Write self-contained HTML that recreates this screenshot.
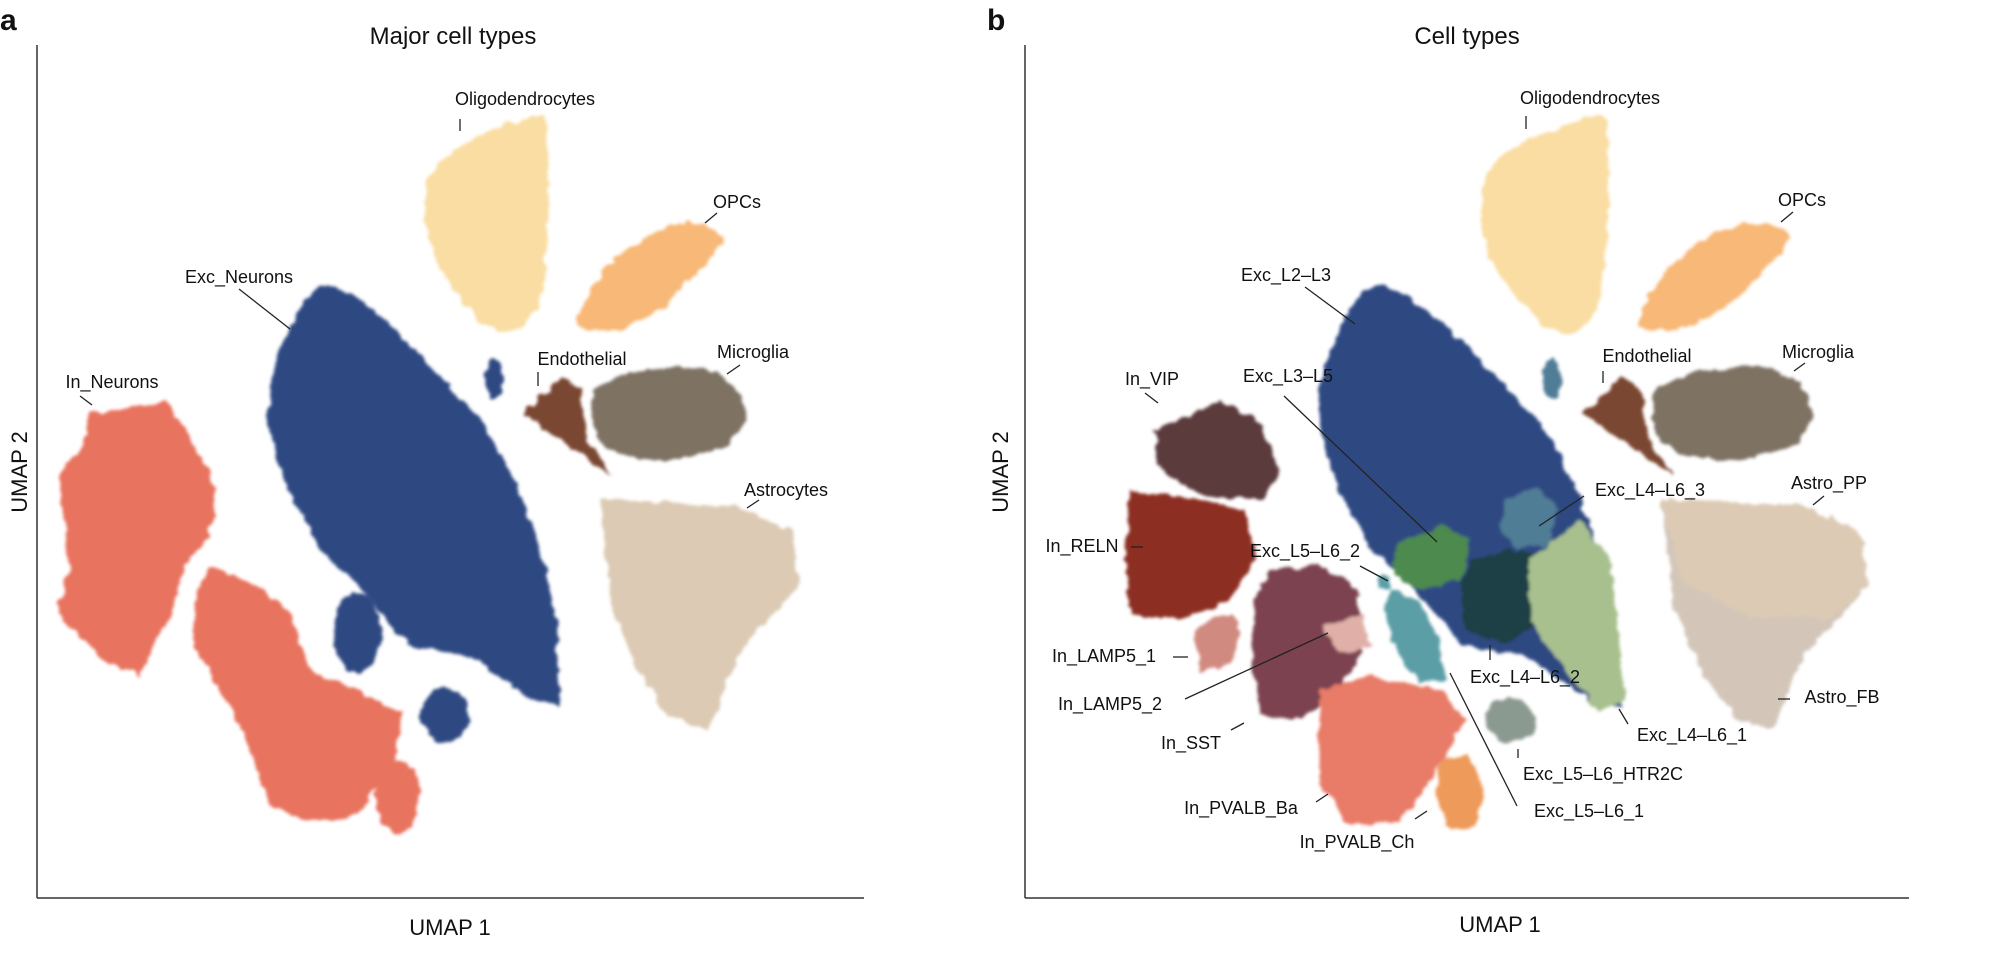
<!DOCTYPE html>
<html><head><meta charset="utf-8"><style>
html,body{margin:0;padding:0;background:#fff;}
svg{display:block;}
text{font-family:"Liberation Sans",sans-serif;fill:#111;}
.l{font-size:18px;text-anchor:middle;}
.t{font-size:24px;text-anchor:middle;}
.ax{font-size:22px;text-anchor:middle;}
.p{font-size:30px;font-weight:bold;}
line.k{stroke:#222;stroke-width:1.3;}
</style></head><body>
<svg width="2000" height="955" viewBox="0 0 2000 955" xmlns="http://www.w3.org/2000/svg">
<defs>
<filter id="r" x="-10%" y="-10%" width="120%" height="120%">
<feTurbulence type="fractalNoise" baseFrequency="0.08" numOctaves="2" seed="3" result="n"/>
<feDisplacementMap in="SourceGraphic" in2="n" scale="10" xChannelSelector="R" yChannelSelector="G" result="d"/>
<feGaussianBlur in="d" stdDeviation="1.5"/>
</filter>
<g id="shared">
<path d="M545,116 C520,118 470,135 440,160 C420,180 420,230 440,270 C460,300 480,325 500,332 C520,335 535,320 540,300 C548,250 552,180 545,116 Z" fill="#f9dda2"/>
<path d="M577,326 C585,290 610,260 640,240 C670,222 700,215 724,237 C715,255 700,270 680,290 C660,310 640,325 606,332 Z" fill="#f8b877"/>
<path d="M593,390 C620,372 650,366 690,368 C720,370 742,385 746,414 C742,440 721,450 700,455 C670,462 640,462 615,452 C595,440 587,426 593,390 Z" fill="#7e7263"/>
<path d="M523,414 L561,377 L580,390 L587,438 L612,475 L574,450 L542,426 Z" fill="#7a4632"/>
</g>
<path id="exc" d="M290,330 C300,300 315,285 330,285 C360,295 383,316 420,355 L485,426 C505,460 523,499 540,550 L555,609 L561,706 L529,700 L472,657 L408,645 L357,584 L319,548 L287,487 L268,426 C268,390 275,355 290,330 Z"/>
</defs>

<text x="0" y="30" class="p">a</text>
<text x="453" y="44" class="t">Major cell types</text>
<line x1="37" y1="45" x2="37" y2="898" stroke="#333" stroke-width="1.5"/>
<line x1="37" y1="898" x2="864" y2="898" stroke="#333" stroke-width="1.5"/>
<text x="450" y="935" class="ax">UMAP 1</text>
<text transform="translate(27,472) rotate(-90)" class="ax">UMAP 2</text>

<g filter="url(#r)">
<use href="#shared"/>
<use href="#exc" fill="#2f4a82"/>
<ellipse cx="357" cy="633" rx="24" ry="40" fill="#2f4a82"/>
<ellipse cx="446" cy="715" rx="24" ry="27" fill="#2f4a82"/>
<ellipse cx="494" cy="378" rx="9" ry="20" fill="#2f4a82"/>
<path d="M89,414 L166,402 L191,438 L217,487 L210,536 L185,566 L172,609 L140,676 L108,663 L57,615 L70,560 L57,475 L83,450 Z" fill="#e8735f"/>
<path d="M210,566 L255,584 L287,609 L312,670 L402,712 L395,761 L357,816 L306,822 L268,803 L242,730 L191,639 L198,590 Z" fill="#e8735f"/>
<ellipse cx="398" cy="797" rx="22" ry="37" fill="#e8735f"/>
<path d="M600,499 L733,505 L791,530 L800,584 L740,651 L708,730 L670,718 L638,670 L612,609 Z" fill="#dccab4"/>
</g>

<text x="525" y="105" class="l">Oligodendrocytes</text><line class="k" x1="460" y1="119" x2="460" y2="131"/>
<text x="737" y="208" class="l">OPCs</text><line class="k" x1="717" y1="213" x2="705" y2="223"/>
<text x="239" y="283" class="l">Exc_Neurons</text><line class="k" x1="239" y1="289" x2="290" y2="329"/>
<text x="112" y="388" class="l">In_Neurons</text><line class="k" x1="80" y1="396" x2="92" y2="405"/>
<text x="582" y="365" class="l">Endothelial</text><line class="k" x1="538" y1="372" x2="538" y2="386"/>
<text x="753" y="358" class="l">Microglia</text><line class="k" x1="740" y1="365" x2="727" y2="374"/>
<text x="786" y="496" class="l">Astrocytes</text><line class="k" x1="759" y1="500" x2="747" y2="508"/>

<text x="987" y="30" class="p">b</text>
<text x="1467" y="44" class="t">Cell types</text>
<line x1="1025" y1="45" x2="1025" y2="898" stroke="#333" stroke-width="1.5"/>
<line x1="1025" y1="898" x2="1909" y2="898" stroke="#333" stroke-width="1.5"/>
<text x="1500" y="932" class="ax">UMAP 1</text>
<text transform="translate(1008,472) rotate(-90)" class="ax">UMAP 2</text>

<g filter="url(#r)">
<g transform="translate(1040,0) scale(1.036,1)">
<use href="#shared"/>
<use href="#exc" fill="#2f4a82"/>
<ellipse cx="494" cy="378" rx="9" ry="20" fill="#4f7d96"/>
<path d="M600,499 L733,505 L791,530 L800,584 L740,651 L708,730 L670,718 L638,670 L612,609 Z" fill="#d3c6b9"/>
<path d="M600,499 L733,505 L791,530 L800,584 L760,620 L680,615 L620,580 Z" fill="#dccab4"/>
</g>
<path d="M1395,545 L1440,525 L1470,540 L1462,580 L1420,590 L1395,575 Z" fill="#4e8a4e"/>
<path d="M1504,500 L1540,487 L1558,510 L1550,545 L1515,548 L1500,525 Z" fill="#4f7d96"/>
<path d="M1470,560 L1520,548 L1545,565 L1540,620 L1505,645 L1465,630 L1460,590 Z" fill="#1e3f45"/>
<path d="M1529,560 L1580,520 L1610,560 L1625,700 L1600,712 L1550,650 L1530,620 Z" fill="#a7c08e"/>
<path d="M1390,590 L1420,600 L1440,640 L1446,680 L1420,682 L1395,650 L1385,610 Z" fill="#5c9ea6"/>
<ellipse cx="1385" cy="583" rx="7" ry="8" fill="#5c9ea6"/>
<ellipse cx="1510" cy="720" rx="25" ry="22" fill="#8b9a90"/>
<path d="M1155,430 L1220,402 L1260,420 L1278,470 L1265,500 L1200,495 L1160,470 Z" fill="#5b3a3c"/>
<path d="M1130,490 L1200,500 L1245,510 L1255,560 L1230,600 L1180,620 L1130,615 L1125,560 Z" fill="#8c2e24"/>
<path d="M1195,630 L1230,612 L1242,630 L1230,665 L1200,672 Z" fill="#d08a80"/>
<path d="M1270,570 L1320,565 L1358,590 L1362,650 L1340,690 L1300,720 L1260,715 L1252,660 L1255,600 Z" fill="#7b4350"/>
<path d="M1322,625 L1362,615 L1372,645 L1340,655 Z" fill="#e0b0a8"/>
<path d="M1320,690 L1370,675 L1440,690 L1466,720 L1430,780 L1400,822 L1350,825 L1318,780 Z" fill="#e87b68"/>
<path d="M1440,760 L1470,755 L1485,790 L1475,828 L1450,830 L1436,795 Z" fill="#ee9a5a"/>
</g>

<text x="1590" y="104" class="l">Oligodendrocytes</text><line class="k" x1="1526" y1="116" x2="1526" y2="129"/>
<text x="1802" y="206" class="l">OPCs</text><line class="k" x1="1793" y1="212" x2="1781" y2="222"/>
<text x="1286" y="281" class="l">Exc_L2–L3</text><line class="k" x1="1305" y1="287" x2="1355" y2="324"/>
<text x="1152" y="385" class="l">In_VIP</text><line class="k" x1="1145" y1="393" x2="1158" y2="403"/>
<text x="1288" y="382" class="l">Exc_L3–L5</text><line class="k" x1="1284" y1="396" x2="1437" y2="542"/>
<text x="1647" y="362" class="l">Endothelial</text><line class="k" x1="1603" y1="371" x2="1603" y2="383"/>
<text x="1818" y="358" class="l">Microglia</text><line class="k" x1="1805" y1="363" x2="1794" y2="371"/>
<text x="1650" y="496" class="l">Exc_L4–L6_3</text><line class="k" x1="1584" y1="496" x2="1539" y2="526"/>
<text x="1829" y="489" class="l">Astro_PP</text><line class="k" x1="1824" y1="496" x2="1813" y2="505"/>
<text x="1082" y="552" class="l">In_RELN</text><line class="k" x1="1131" y1="547" x2="1143" y2="547"/>
<text x="1305" y="557" class="l">Exc_L5–L6_2</text><line class="k" x1="1360" y1="566" x2="1388" y2="581"/>
<text x="1104" y="662" class="l">In_LAMP5_1</text><line class="k" x1="1173" y1="657" x2="1188" y2="657"/>
<text x="1110" y="710" class="l">In_LAMP5_2</text><line class="k" x1="1185" y1="699" x2="1328" y2="633"/>
<text x="1525" y="683" class="l">Exc_L4–L6_2</text><line class="k" x1="1490" y1="645" x2="1490" y2="660"/>
<text x="1842" y="703" class="l">Astro_FB</text><line class="k" x1="1778" y1="699" x2="1790" y2="699"/>
<text x="1191" y="749" class="l">In_SST</text><line class="k" x1="1231" y1="730" x2="1244" y2="723"/>
<text x="1692" y="741" class="l">Exc_L4–L6_1</text><line class="k" x1="1619" y1="709" x2="1628" y2="724"/>
<text x="1603" y="780" class="l">Exc_L5–L6_HTR2C</text><line class="k" x1="1518" y1="749" x2="1518" y2="758"/>
<text x="1589" y="817" class="l">Exc_L5–L6_1</text><line class="k" x1="1450" y1="673" x2="1517" y2="806"/>
<text x="1241" y="814" class="l">In_PVALB_Ba</text><line class="k" x1="1316" y1="802" x2="1328" y2="794"/>
<text x="1357" y="848" class="l">In_PVALB_Ch</text><line class="k" x1="1415" y1="819" x2="1427" y2="811"/>
</svg>
</body></html>
